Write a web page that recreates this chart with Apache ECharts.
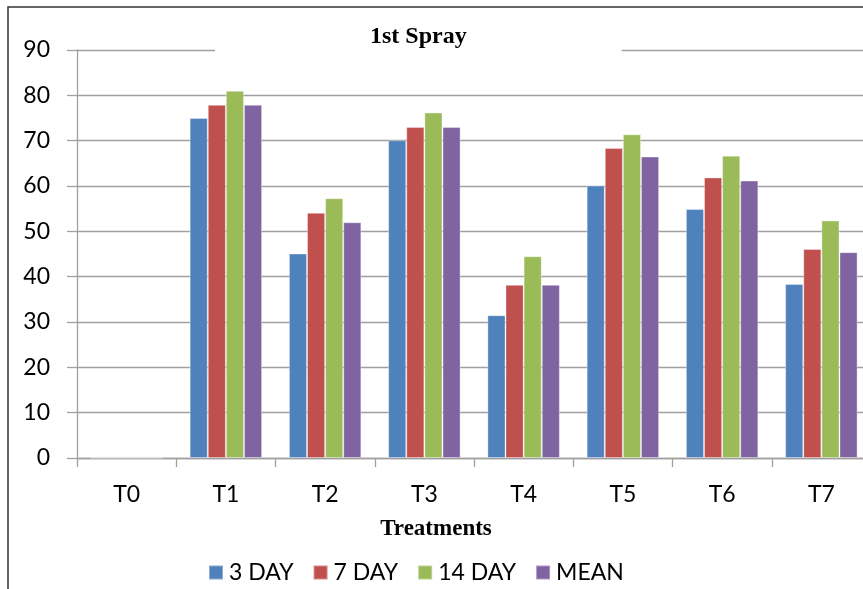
<!DOCTYPE html>
<html>
<head>
<meta charset="utf-8">
<script src="https://cdn.jsdelivr.net/npm/echarts@6/dist/echarts.min.js"></script>
<style>html,body{margin:0;padding:0;background:#fff;overflow:hidden;width:863px;height:589px;}#c{width:884px;height:589px;}</style>
</head>
<body>
<div id="c"></div>
<script>
const categories = ['T0','T1','T2','T3','T4','T5','T6','T7'];
const seriesNames = ['3 DAY','7 DAY','14 DAY','MEAN'];
const day3 = [0, 75.0, 45.1, 70.1, 31.5, 60.1, 54.9, 38.4];
const day7 = [0, 77.9, 54.1, 73.0, 38.2, 68.4, 61.9, 46.1];
const day14 = [0, 81.0, 57.3, 76.2, 44.5, 71.4, 66.7, 52.4];
const mean = [0, 77.9, 52.0, 73.0, 38.2, 66.5, 61.2, 45.4];
const yTicks = {min: 0, max: 90, interval: 10};
const colors = ['#4F81BD','#C0504D','#9BBB59','#8064A2'];
const allData = [day3, day7, day14, mean];

const chart = echarts.init(document.getElementById('c'), null, {renderer: 'canvas'});
const labelFont = 'Lato, "Open Sans", sans-serif';
chart.setOption({
  animation: false,
  backgroundColor: '#fff',
  color: colors,
  graphic: [{
    type: 'rect', z: 100, silent: true,
    shape: {x: 8, y: 7, width: 1000, height: 800},
    style: {fill: 'none', stroke: '#333', lineWidth: 1.5}
  }],
  title: {
    text: '1st Spray',
    left: 215, top: 17,
    padding: [8, 155, 10, 155],
    backgroundColor: '#fff',
    textStyle: {fontFamily: '"Liberation Serif", "DejaVu Serif", serif', fontWeight: 'bold', fontSize: 24, color: '#000'}
  },
  legend: {
    data: seriesNames,
    left: 203, top: 556,
    itemWidth: 14, itemHeight: 14, itemGap: 19,
    icon: 'rect',
    textStyle: {fontFamily: labelFont, fontSize: 23, color: '#000', padding: [0,0,0,1]}
  },
  grid: {left: 77, width: 794, top: 50, height: 408, containLabel: false},
  xAxis: {
    type: 'category',
    data: categories,
    name: 'Treatments',
    nameLocation: 'middle',
    nameGap: 60,
    nameTextStyle: {fontFamily: '"Liberation Serif", "DejaVu Serif", serif', fontWeight: 'bold', fontSize: 23, color: '#000', padding: [0, 76, 0, 0]},
    axisLine: {lineStyle: {color: '#a0a0a0', width: 1.3}},
    axisTick: {show: true, length: 9, lineStyle: {color: '#a0a0a0', width: 1.3}},
    axisLabel: {fontFamily: labelFont, fontSize: 23, color: '#000', margin: 25}
  },
  yAxis: {
    type: 'value',
    min: yTicks.min, max: yTicks.max, interval: yTicks.interval,
    axisLine: {show: true, lineStyle: {color: '#a0a0a0', width: 1.3}},
    axisTick: {show: true, length: 10, lineStyle: {color: '#a0a0a0', width: 1.3}},
    axisLabel: {fontFamily: labelFont, fontSize: 23, color: '#000', margin: 27},
    splitLine: {show: true, lineStyle: {color: '#a0a0a0', width: 1.3}}
  },
  series: seriesNames.map((n, i) => ({
    name: n,
    type: 'bar',
    data: allData[i],
    barGap: '0%',
    barCategoryGap: '27%',
    itemStyle: {color: colors[i], borderColor: 'rgba(255,255,255,0.35)', borderWidth: 1}
  }))
});
</script>
</body>
</html>
